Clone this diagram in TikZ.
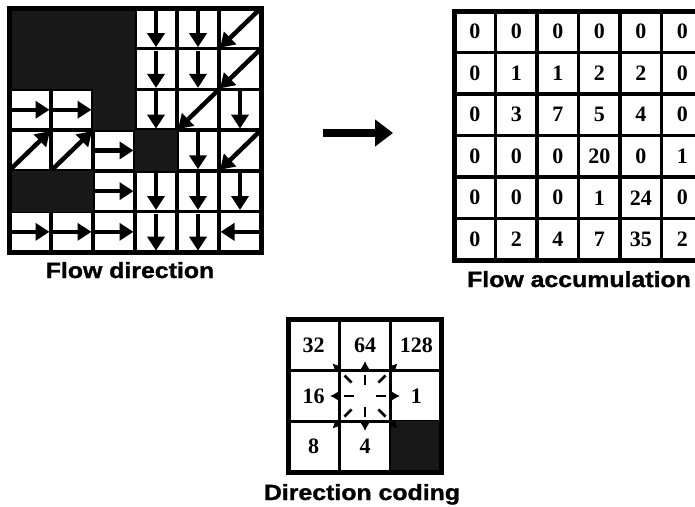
\documentclass[tikz,border=0pt]{standalone}
\usepackage{fontspec}
\setmainfont{Liberation Serif}
\newfontfamily\labelfont{Liberation Sans}[FakeStretch=1.13,BoldFeatures={FakeBold=1.2}]
\usetikzlibrary{arrows.meta,positioning}
\definecolor{rasterDark}{RGB}{24,24,24}

\begin{document}
\begin{tikzpicture}[
  x=1pt,y=-1pt,
  fdcell/.style={
    draw,
    line width=3.5pt,
    minimum width=42pt,
    minimum height=40.7pt,
    inner sep=0pt,
    outer sep=0pt
  },
  facell/.style={
    draw,
    line width=3.5pt,
    minimum size=41.5pt,
    inner sep=0pt,
    outer sep=0pt,
    font=\bfseries\fontsize{22}{26}\selectfont
  },
  dccell/.style={
    draw,
    line width=3.5pt,
    minimum width=51.3pt,
    minimum height=50.7pt,
    inner sep=0pt,
    outer sep=0pt,
    font=\bfseries\fontsize{22}{26}\selectfont
  },
  gridframe/.style={draw,line width=5pt},
  caption/.style={anchor=base,inner sep=0pt,font=\labelfont\bfseries\fontsize{22}{26}\selectfont},
  flowarrow/.style={-{Triangle[length=14pt,width=17pt]},line width=4.5pt,shorten >=1.5pt,shorten <=2pt},
  bigarrow/.style={-{Triangle[length=18pt,width=26pt]},line width=8pt},
  codetick/.style={line width=2.8pt},
  codearrow/.style={-{Latex[length=8pt,width=9pt]},line width=2pt}
]
  \clip (0,0) rectangle (695,506);
  % flow direction grid
  \foreach \r in {1,...,6}
    \foreach \c in {1,...,6}
      \node[fdcell] (fd-\r-\c) at ({30+42*(\c-1)},{28.35+40.7*(\r-1)}) {};
  \foreach \r/\c in {1/1,1/2,1/3,2/1,2/2,2/3,3/3,4/4,5/1,5/2}
    \fill[rasterDark] (fd-\r-\c.north west) rectangle (fd-\r-\c.south east);
  \foreach \r/\c in {1/4,1/5,2/4,2/5,3/4,3/6,4/5,5/4,5/5,5/6,6/4,6/5}
    \draw[flowarrow] (fd-\r-\c.north) -- (fd-\r-\c.south);
  \foreach \r/\c in {1/6,2/6,3/5,4/6}
    \draw[flowarrow] (fd-\r-\c.north east) -- (fd-\r-\c.south west);
  \foreach \r/\c in {3/1,3/2,4/3,5/3,6/1,6/2,6/3}
    \draw[flowarrow] (fd-\r-\c.west) -- (fd-\r-\c.east);
  \foreach \r/\c in {4/1,4/2}
    \draw[flowarrow] (fd-\r-\c.south west) -- (fd-\r-\c.north east);
  \draw[flowarrow] (fd-6-6.east) -- (fd-6-6.west);
  \draw[gridframe] (fd-1-1.north west) rectangle (fd-6-6.south east);
  \node[caption] (fdcaption) at (130,278) {Flow direction};

  % arrow between the grids
  \coordinate (arrowtail) at (323,133);
  \coordinate (arrowhead) at (393,133);
  \draw[bigarrow] (arrowtail) -- (arrowhead);

  % flow accumulation grid
  \foreach \row [count=\r] in {{0,0,0,0,0,0},{0,1,1,2,2,0},{0,3,7,5,4,0},{0,0,0,20,0,1},{0,0,0,1,24,0},{0,2,4,7,35,2}}
    \foreach \v [count=\c] in \row
      \node[facell] (fa-\r-\c) at ({474.75+41.5*(\c-1)},{31.75+41.5*(\r-1)}) {\v};
  \draw[gridframe] (fa-1-1.north west) rectangle (fa-6-6.south east);
  \node[caption] (facaption) at (579,287) {Flow accumulation};

  % direction coding
  \foreach \row [count=\r] in {{32,64,128},{16,{},1},{8,4,{}}}
    \foreach \v [count=\c] in \row
      \node[dccell] (dc-\r-\c) at ({313.7+51.3*(\c-1)},{345.3+50.7*(\r-1)}) {\v};
  \fill[rasterDark] (dc-3-3.north west) rectangle (dc-3-3.south east);
  \foreach \a/\i/\o/\t in {0/11/21/35,90/11/21/35,180/11/21/35,270/11/21/35,45/19/29/46,135/19/29/46,225/19/29/46,315/19/29/46} {
    \draw[codetick] ([shift={(\a:\i)}]dc-2-2.center) -- ([shift={(\a:\o)}]dc-2-2.center);
    \draw[codearrow] ([shift={(\a:{\t-10})}]dc-2-2.center) -- ([shift={(\a:\t)}]dc-2-2.center);
  }
  \draw[gridframe] (dc-1-1.north west) rectangle (dc-3-3.south east);
  \node[caption] (dccaption) at (362,500) {Direction coding};
\end{tikzpicture}
\end{document}
